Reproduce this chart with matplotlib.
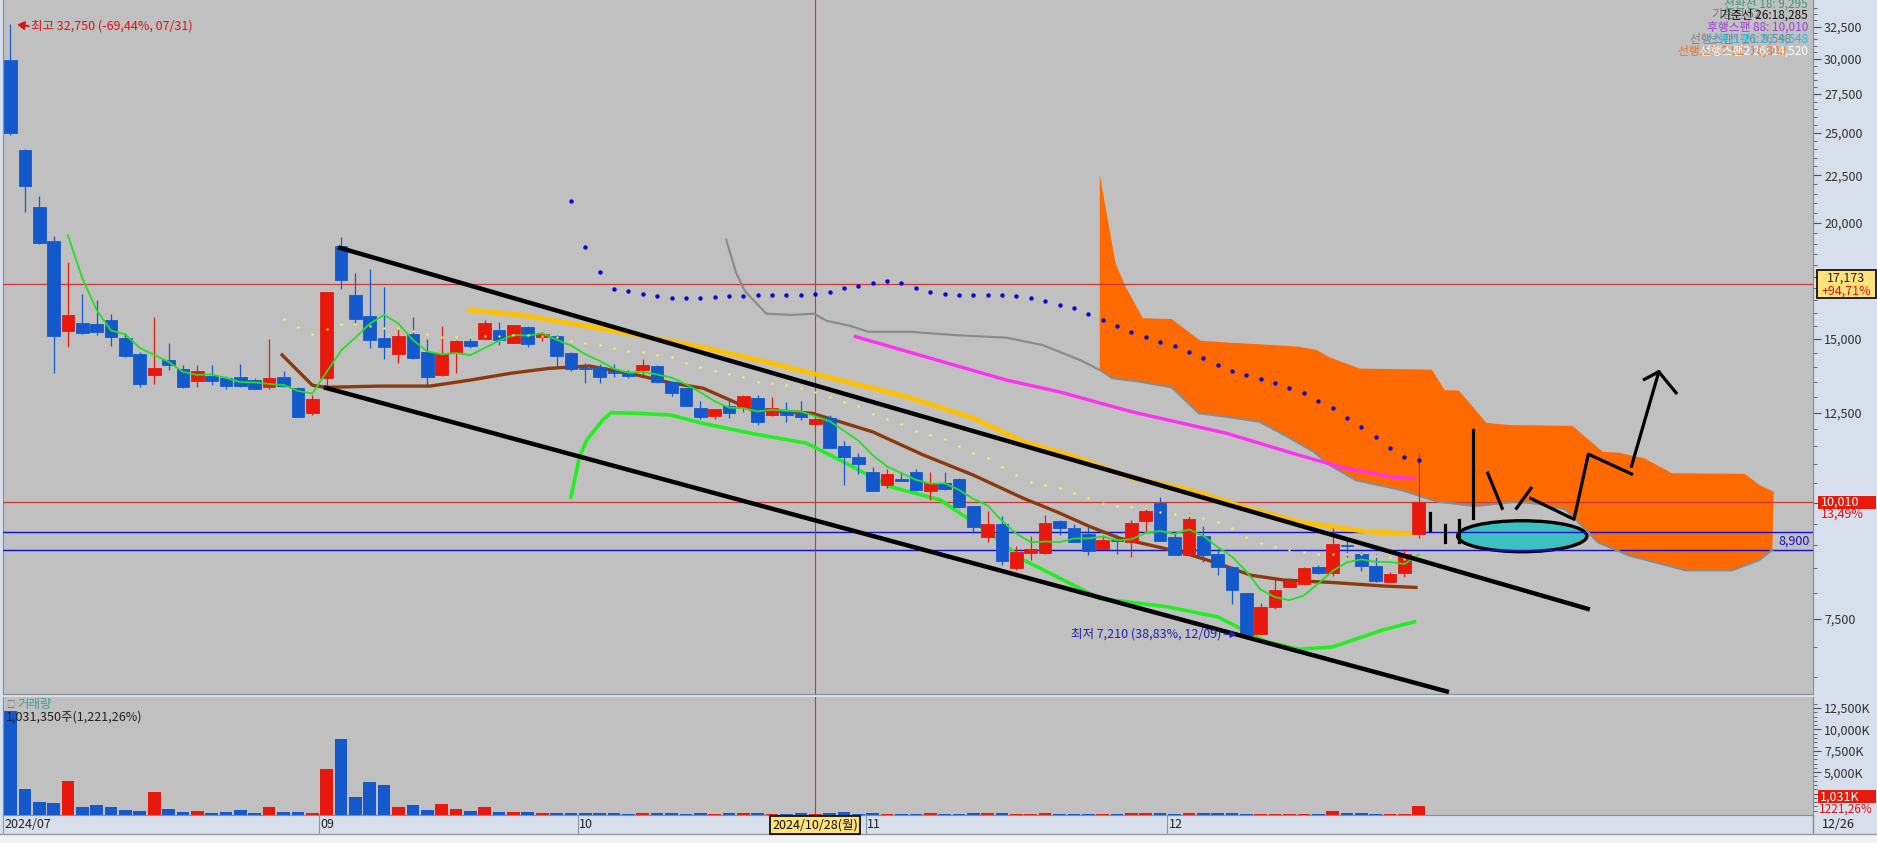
import numpy as np
import pandas as pd
import matplotlib
matplotlib.use('Agg')
import matplotlib.pyplot as plt
import matplotlib.transforms as mtransforms
from matplotlib.patches import Ellipse, Rectangle
from matplotlib.lines import Line2D
from matplotlib.ticker import NullFormatter

plt.rcParams['font.family'] = ['Noto Sans CJK KR', 'DejaVu Sans']

# daily candles, 2024/07/31 .. 2024/12/26 (index 0..98)
opens = [29920, 23950, 20800, 19120, 15300, 15600, 15570, 15720, 15030, 14450,
         13720, 14240, 13940, 13520, 13690, 13620, 13650, 13550, 13330, 13650,
         13290, 12490, 13620, 18880, 16720, 15880, 15030, 14450, 15180, 14520,
         13720, 14490, 14920, 15000, 15340, 14850, 15460, 15070, 15110, 14490,
         13960, 13990, 13860, 13800, 13890, 14030, 13470, 13290, 12640, 12400,
         12710, 12640, 12960, 12430, 12580, 12490, 12150, 12330, 11510, 11210,
         10790, 10450, 10600, 10780, 10300, 10510, 10620, 9910, 9190, 9490,
         8510, 8840, 8840, 9560, 9400, 9260, 8930, 9130, 9080, 9550,
         9990, 9190, 8790, 9210, 8800, 8540, 8000, 7230, 7720, 8120,
         8170, 8530, 8400, 9000, 8810, 8550, 8220, 8400, 9260]
highs = [32750, 24000, 21370, 19350, 18150, 16770, 16520, 15960, 15220, 14520,
         15840, 14850, 14060, 14060, 14060, 13690, 14100, 13620, 15000, 13860,
         13320, 13060, 16850, 19310, 17660, 17840, 17060, 15410, 15840, 15000,
         15490, 14950, 15110, 15720, 15640, 15530, 15500, 15260, 15150, 14520,
         14130, 14100, 14100, 13900, 14270, 14060, 13500, 13300, 12860, 12620,
         12860, 13050, 13060, 13000, 12820, 12880, 12330, 12430, 11640, 11300,
         10920, 10880, 10780, 10860, 10780, 10790, 10640, 9930, 9810, 9670,
         8990, 9210, 9700, 9580, 9500, 9430, 9230, 9240, 9590, 9900,
         10150, 9320, 9740, 9450, 8930, 8560, 8000, 7800, 8280, 8300,
         8530, 8580, 9400, 9190, 8860, 8810, 8420, 8920, 11310]
lows = [24860, 20540, 19000, 13790, 14700, 15200, 15150, 14740, 14350, 13320,
        13420, 13890, 13290, 13320, 13390, 13250, 13320, 13260, 13250, 13320,
        12370, 12430, 13290, 16970, 15600, 14670, 14270, 14130, 14270, 13390,
        13700, 13790, 14670, 14960, 14780, 14850, 14700, 14920, 13990, 13850,
        13460, 13460, 13650, 13620, 13720, 13460, 13020, 12700, 12320, 12320,
        12350, 12530, 12120, 12400, 12210, 12290, 12130, 11450, 10450, 10740,
        10290, 10370, 10560, 10300, 10080, 10320, 9880, 9290, 9080, 8570,
        8460, 8680, 8820, 9240, 9080, 8780, 8920, 8820, 8740, 9290,
        9100, 8780, 8780, 8630, 8360, 7780, 7210, 7210, 7680, 8110,
        8150, 8380, 8350, 8740, 8450, 8230, 8200, 8330, 9160]
closes = [24980, 21900, 19020, 15110, 15920, 15220, 15260, 15070, 14380, 13420,
          13960, 14060, 13320, 13860, 13520, 13350, 13350, 13270, 13620, 13350,
          12370, 12930, 16850, 17360, 15760, 14960, 14700, 15110, 14310, 13650,
          14450, 14920, 14740, 15600, 14960, 15530, 14810, 15180, 14380, 13920,
          13920, 13650, 13800, 13690, 14060, 13490, 13120, 12710, 12370, 12600,
          12490, 13020, 12210, 12640, 12430, 12370, 12300, 11450, 11200, 11010,
          10300, 10740, 10560, 10320, 10510, 10340, 9900, 9420, 9490, 8660,
          8850, 8930, 9510, 9400, 9080, 8870, 9130, 9090, 9510, 9810,
          9100, 8790, 9600, 8790, 8530, 8060, 7210, 7730, 8060, 8240,
          8510, 8400, 9030, 8980, 8550, 8240, 8380, 8820, 10010]
volume_k = [12100, 3040, 1520, 1400, 4010, 970, 1170, 930, 580, 470,
            2720, 700, 350, 510, 230, 350, 580, 230, 970, 350,
            350, 270, 5370, 8880, 2100, 3890, 3500, 970, 1170, 580,
            1290, 740, 510, 930, 350, 350, 350, 270, 230, 230,
            270, 230, 230, 160, 270, 230, 230, 120, 230, 120,
            270, 230, 270, 120, 120, 230, 120, 270, 350, 120,
            230, 160, 120, 120, 270, 120, 120, 230, 230, 230,
            120, 120, 270, 120, 120, 120, 120, 120, 270, 270,
            230, 120, 270, 230, 230, 230, 120, 120, 120, 120,
            120, 120, 430, 230, 230, 120, 120, 84, 1031]

month_start = [0, 22, 40, 60, 81]
month_labels = ['2024/07', '09', '10', '11', '12']
cursor_day = 56
cursor_label = '2024/10/28(월)'

# indicator lines (x = day index)
brown_x = [18.9, 21.0, 21.9, 25.7, 29.2, 32.0, 34.8, 37.5, 40.3, 43.6, 45.9, 48.2, 51.5, 55.8,
           60.0, 63.5, 67.0, 70.5, 72.8, 75.1, 77.2, 81.6, 84.0, 86.3, 88.6, 92.0, 95.5, 97.8]
brown_y = [14420, 13380, 13310, 13350, 13350, 13550, 13780, 13950, 14030, 13720, 13460, 13280, 12610, 12480,
           11920, 11260, 10710, 10110, 9780, 9430, 9160, 8840, 8610, 8360, 8260, 8210, 8140, 8110]
gold_x = [31.9, 35.5, 39.0, 43.6, 48.2, 51.5, 57.7, 62.4, 67.0, 70.5, 74.0, 78.1, 81.2, 82.8, 85.8, 89.7, 94.4, 97.7]
gold_y = [16120, 15920, 15590, 15150, 14690, 14300, 13550, 13000, 12330, 11630, 11210, 10630, 10400, 10240,
          9900, 9540, 9310, 9260]
magenta_x = [58.8, 69.3, 73.0, 78.0, 84.6, 89.6, 92.9, 96.3, 97.7]
magenta_y = [15090, 13550, 13160, 12530, 11880, 11260, 10890, 10650, 10620]
lowgreen_x = [39.0, 39.6, 40.1, 41.2, 41.8, 43.6, 45.9, 48.2, 51.5, 55.4, 57.7, 61.2, 64.7, 68.2,
              70.5, 72.8, 75.8, 80.5, 84.0, 87.4, 89.7, 92.0, 95.5, 97.7]
lowgreen_y = [10140, 11210, 11680, 12270, 12500, 12480, 12430, 12170, 11880, 11590, 11120, 10410, 10070, 9270,
              8680, 8330, 7890, 7730, 7540, 7090, 6960, 7000, 7300, 7450]
yellow_start = 19
yellow_dots = [15750, 15440, 15175, 15365, 15555, 15555, 15500, 15420, 15400, 15310,
               15185, 15085, 15085, 15060, 15110, 15110, 15150, 15140, 15110, 15060,
               14935, 14860, 14770, 14660, 14570, 14535, 14417, 14335, 14145, 14005,
               13865, 13745, 13665, 13495, 13460, 13385, 13275, 13165, 13000, 12845,
               12705, 12460, 12295, 12155, 11955, 11827, 11700, 11510, 11320, 11165,
               10915, 10711, 10535, 10450, 10365, 10235, 10110, 10000, 9920, 9890,
               9865, 9780, 9725, 9700, 9620, 9525, 9390, 9180, 9060, 8960,
               8897, 8860, 8810, 8810, 8810, 8800, 8770, 8735, 8710]
blue_start = 39
blue_dots = [21110, 18850, 17720, 16980, 16890, 16770, 16690, 16620, 16620, 16620,
             16650, 16690, 16690, 16720, 16720, 16720, 16720, 16770, 16870, 17020,
             17120, 17220, 17320, 17220, 17020, 16870, 16770, 16720, 16720, 16720,
             16720, 16670, 16620, 16470, 16330, 16180, 15940, 15720, 15490, 15270,
             15090, 14890, 14740, 14540, 14310, 14060, 13870, 13720, 13590, 13460,
             13290, 13120, 12880, 12650, 12350, 12070, 11770, 11460, 11210, 11120]
spanA_x = [49.8, 50.5, 51.1, 52.6, 54.3, 55.9, 56.8, 58.4, 59.7, 62.6, 65.9, 69.3, 71.8, 74.5, 75.8,
           76.7, 78.6, 80.8, 82.7, 84.6, 86.9, 88.8, 90.7, 91.8, 93.6, 96.8, 99.3, 101.9, 104.8,
           106.3, 108.2, 109.2, 110.5, 112.7, 116.6, 119.8, 121.7, 122.6]
spanA_y = [19190, 17660, 16890, 15970, 15920, 15970, 15690, 15500, 15270, 15270, 15140, 15050, 14780, 14225, 13890,
           13610, 13495, 13310, 12480, 12375, 12225, 11790, 11345, 10980, 10580, 10320, 10030, 9920, 10030,
           9975, 9840, 9500, 9060, 8770, 8460, 8460, 8680, 8900]
spanB_x = [75.8, 76.9, 77.6, 78.8, 80.8, 82.8, 85.0, 87.8, 89.7, 90.9, 91.8, 93.9, 98.9, 99.8, 100.8,
           102.7, 104.3, 108.7, 110.8, 111.9, 113.7, 115.6, 120.7, 121.7, 122.7]
spanB_y = [22510, 18090, 17070, 15790, 15760, 14935, 14860, 14778, 14715, 14596, 14330, 13940, 13905, 13220, 13200,
           12190, 12123, 12095, 11345, 11320, 11165, 10760, 10740, 10450, 10275]

# hand-drawn channel and sketch
chan_up_x, chan_up_y = [22.8, 109.9], [18820, 7680]
chan_lo_x, chan_lo_y = [21.8, 100.1], [13310, 6260]
sketch = [
    ([98.8, 98.8], [9740, 9350]),
    ([99.8, 99.8], [9465, 9080]),
    ([100.8, 100.8], [9583, 9080]),
    ([101.8, 101.8], [11974, 9620]),
    ([102.8, 103.8], [10760, 9865]),
    ([104.8, 105.8], [9865, 10365]),
    ([105.8, 108.8, 109.8, 112.8], [10110, 9600, 11280, 10740]),
    ([112.8, 114.7], [10950, 13830]),
    ([113.7, 114.7, 115.9], [13575, 13830, 13130]),
]
oval_x, oval_w = 105.2, 9.0
oval_y, oval_h = 9213, 706

hlines_red = [17173, 10010]
hlines_blue = [9295, 8900]
price_ticks = [7500, 10000, 12500, 15000, 17500, 20000, 22500, 25000, 27500, 30000, 32500]
vol_ticks = [2500, 5000, 7500, 10000, 12500]

RED = '#E8190C'
BLUE = '#1459CC'
PANEL = '#C0C0C0'
SIDE = '#D6DFEB'

W, H = 1877, 843
fig = plt.figure(figsize=(W / 100, H / 100), dpi=100, facecolor=SIDE)


def frame(x0, y0, x1, y1):
    return [x0 / W, 1 - y1 / H, (x1 - x0) / W, (y1 - y0) / H]


ax = fig.add_axes(frame(3, 0, 1813, 694))
axv = fig.add_axes(frame(3, 697, 1813, 815))

idx = np.arange(len(closes))
o, h, l, c = map(np.array, (opens, highs, lows, closes))
cols = np.where(c >= o, RED, BLUE)

for a in (ax, axv):
    a.set_facecolor(PANEL)
    a.set_xlim(-0.52, 125.43)
    a.set_xticks([])
    for s in a.spines.values():
        s.set_color('#8C8C8C')
    a.spines['top'].set_visible(False)
    a.yaxis.tick_right()
    a.tick_params(axis='y', which='major', direction='out', length=6, width=0.8,
                  color='#505050', labelsize=9, labelcolor='#303030', pad=2)
    a.tick_params(axis='y', which='minor', direction='out', length=3, width=0.6, color='#505050')

ax.set_yscale('log')
ax.set_ylim(6230, 34714)
ax.set_yticks(price_ticks)
ax.set_yticklabels([f'{v:,}' for v in price_ticks])
ax.set_yticks([v for v in range(6500, 34500, 500) if v not in price_ticks], minor=True)
ax.yaxis.set_minor_formatter(NullFormatter())

# cloud
ma = np.array(spanA_x) >= spanB_x[0]
cloud_x = np.concatenate([spanB_x, np.array(spanA_x)[ma][::-1]])
cloud_y = np.concatenate([spanB_y, np.array(spanA_y)[ma][::-1]])
ax.fill(cloud_x, cloud_y, color='#FF6A00', lw=0, zorder=1)

ax.add_patch(Ellipse((oval_x, oval_y), oval_w, oval_h, facecolor='#3CC0C0',
                     edgecolor='black', lw=2.4, zorder=2))

for v in hlines_red:
    ax.axhline(v, color='#C83838', lw=0.9, zorder=3)
for v in hlines_blue:
    ax.axhline(v, color='#1010C8', lw=1.0, zorder=3)
ax.axvline(cursor_day, color='#C83838', lw=0.8, zorder=3)
axv.axvline(cursor_day, color='#C83838', lw=0.8, zorder=3)

ax.plot(spanA_x, spanA_y, color='#8A8A8A', lw=1.5, zorder=4)
ax.plot(gold_x, gold_y, color='#FFC000', lw=3.4, zorder=4, solid_capstyle='round')
ax.plot(magenta_x, magenta_y, color='#FF30F0', lw=2.4, zorder=4)
ax.plot(lowgreen_x, lowgreen_y, color='#22EE22', lw=2.6, zorder=4)
ax.plot(brown_x, brown_y, color='#8B3A10', lw=2.4, zorder=4)

ma5 = pd.Series(closes).rolling(5).mean()
ax.plot(idx, ma5, color='#22E022', lw=1.3, zorder=7)

ax.plot(chan_up_x, chan_up_y, color='black', lw=3.2, zorder=8, solid_capstyle='butt')
ax.plot(chan_lo_x, chan_lo_y, color='black', lw=3.2, zorder=8, solid_capstyle='butt')
for xs, ys in sketch:
    ax.plot(xs, ys, color='black', lw=2.3, zorder=8)

ax.vlines(idx, l, h, colors=cols, lw=0.9, zorder=5)
ax.bar(idx, np.abs(c - o), bottom=np.minimum(o, c), width=0.88, color=cols,
       edgecolor=cols, linewidth=0.6, zorder=6)

ax.plot(np.arange(yellow_start, yellow_start + len(yellow_dots)), yellow_dots, ls='none',
        marker='s', ms=2.0, mfc='#FFFF40', mec='none', zorder=7)
ax.plot(np.arange(blue_start, blue_start + len(blue_dots)), blue_dots, ls='none',
        marker='o', ms=3.2, mfc='#0A0ACC', mec='none', zorder=9)

# annotations
ax.annotate('최고 32,750 (-69,44%, 07/31)', xy=(0, highs[0]), xytext=(21, -3),
            textcoords='offset pixels', ha='left', va='center', color='#E01010', fontsize=9,
            arrowprops=dict(arrowstyle='-|>,head_length=0.45,head_width=0.28', color='#E01010',
                            lw=1.3, shrinkA=0, shrinkB=5, relpos=(0, 0.5)), zorder=10)
low_i = int(np.argmin(lows))
ax.annotate('최저 7,210 (38,83%, 12/09)', xy=(low_i, lows[low_i]), xytext=(-25, 1),
            textcoords='offset pixels', ha='right', va='center', color='#2020B0', fontsize=9,
            arrowprops=dict(arrowstyle='-|>,head_length=0.4,head_width=0.22', color='#2020B0',
                            lw=1.0, shrinkA=0, shrinkB=7, relpos=(1, 0.5)), zorder=10)

bt = mtransforms.blended_transform_factory(ax.transAxes, ax.transData)
ax.text(0.9983, np.sqrt(hlines_blue[0] * hlines_blue[1]), '8,900', transform=bt, ha='right',
        va='center', color='#1010C8', fontsize=9, zorder=10)

# top-right indicator legend (overlapping strings as in the source terminal)
legend_rows = [
    (0.9942, [('전환선 18: 9,295', '#3A9A7A', 0)]),
    (0.9784, [('기준선 52', '#7A7A7A', 48), ('기준선 26:18,285', '#101010', 0)]),
    (0.9611, [('후행스팬 88: 10,010', '#A040D8', 0)]),
    (0.9438, [('선행스팬1 26: 8,548', '#808080', 17), ('선행스팬1 26: 9,548', '#30B8E0', 0)]),
    (0.9265, [('선행스팬2 52: 16,300', '#F07020', 22), ('선행스팬2 26: 14,520', '#FFFFFF', 0)]),
]
for yf, parts in legend_rows:
    for txt, col, shift in parts:
        ax.text(0.99724 - shift / 1810, yf, txt, transform=ax.transAxes, ha='right', va='center',
                color=col, fontsize=8.5, zorder=11)

# volume panel
axv.set_ylim(0, 13785)
axv.bar(idx, volume_k, width=0.88, color=cols, linewidth=0)
axv.set_yticks(vol_ticks)
axv.set_yticklabels([f'{v:,}K' for v in vol_ticks])
axv.set_yticks([v for v in range(500, 13500, 500) if v not in vol_ticks], minor=True)
axv.yaxis.set_minor_formatter(NullFormatter())
axv.text(0.0017, 0.94, '□', transform=axv.transAxes, ha='left', va='center', color='#707070', fontsize=6)
axv.text(0.0077, 0.94, '거래량', transform=axv.transAxes, ha='left', va='center', color='#3CA0A0', fontsize=9)
axv.text(0.0017, 0.83, f'{volume_k[-1] * 1000 + 350:,}주(1,221,26%)', transform=axv.transAxes,
         ha='left', va='center', color='#202020', fontsize=9)

# right-axis value boxes (pixel space, anchored on data values)
px = mtransforms.IdentityTransform()


def ypix(a, v):
    return a.transData.transform((0, v))[1]


yc = ypix(ax, hlines_red[0])
fig.add_artist(Rectangle((1817, yc - 14), 59, 28, transform=px, facecolor='#FFE27A',
                         edgecolor='black', lw=1.2))
fig.text(1846, yc + 6.5, f'{hlines_red[0]:,}', transform=px, ha='center', va='center',
         color='#202020', fontsize=9)
fig.text(1846, yc - 7, '+94,71%', transform=px, ha='center', va='center', color='#E01010', fontsize=9)

yc = ypix(ax, closes[-1])
fig.add_artist(Rectangle((1818, yc - 6.5), 58, 13, transform=px, facecolor='#E81A0C', lw=0))
fig.text(1821, yc, f'{closes[-1]:,}', transform=px, ha='left', va='center', color='white', fontsize=9)
fig.text(1821, yc - 12, '13,49%', transform=px, ha='left', va='center', color='#E01010', fontsize=9)

yc = ypix(axv, volume_k[-1]) + 9.5
fig.add_artist(Rectangle((1818, yc - 6.5), 58, 13, transform=px, facecolor='#E81A0C', lw=0))
fig.text(1820, yc, f'{volume_k[-1]:,}K', transform=px, ha='left', va='center', color='white', fontsize=9)
fig.text(1819, yc - 12, '1221,26%', transform=px, ha='left', va='center', color='#E01010', fontsize=8.5)

# date strip
btd = mtransforms.blended_transform_factory(axv.transData, px)
for i, lab in zip(month_start, month_labels):
    fig.text(i - 0.42, H - 825, lab, transform=btd, ha='left', va='center', color='#202020', fontsize=9)
    fig.add_artist(Line2D([i - 0.5, i - 0.5], [H - 833, H - 816], transform=btd, color='#8898A8', lw=0.8))
fig.text(cursor_day, H - 825, cursor_label, transform=btd, ha='center', va='center', color='#101010',
         fontsize=9, bbox=dict(boxstyle='square,pad=0.18', facecolor='#FFE27A', edgecolor='black', lw=1.2))
fig.text(1822, H - 825, '12/26', transform=px, ha='left', va='center', color='#202020', fontsize=9)
fig.add_artist(Line2D([1813, 1813], [H - 833, H - 816], transform=px, color='#8C8C8C', lw=1))
fig.add_artist(Line2D([0, W], [H - 833.5, H - 833.5], transform=px, color='#9A9A9A', lw=1))
fig.add_artist(Rectangle((0, 0), W, H - 834, transform=px, facecolor='#F2F2F2', lw=0))

fig.savefig('out.png', dpi=100, facecolor=SIDE)
